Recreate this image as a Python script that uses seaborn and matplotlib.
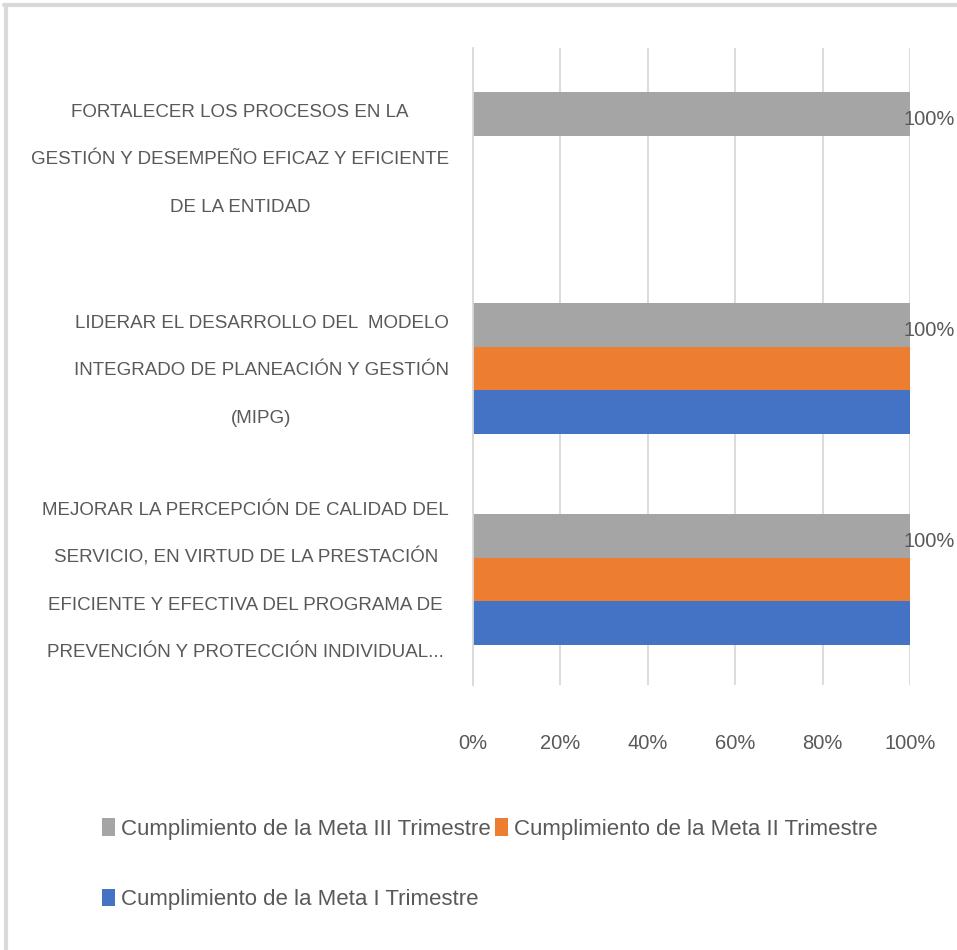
import numpy as np
import pandas as pd
import matplotlib
matplotlib.use("Agg")
import matplotlib.pyplot as plt
from matplotlib.lines import Line2D
from matplotlib.ticker import FuncFormatter
from matplotlib.font_manager import FontProperties
from matplotlib.transforms import ScaledTranslation
import seaborn as sns

# datos
objetivos = [
    "FORTALECER LOS PROCESOS EN LA\nGESTIÓN Y DESEMPEÑO EFICAZ Y EFICIENTE\nDE LA ENTIDAD",
    "LIDERAR EL DESARROLLO DEL  MODELO\nINTEGRADO DE PLANEACIÓN Y GESTIÓN\n(MIPG)",
    "MEJORAR LA PERCEPCIÓN DE CALIDAD DEL\nSERVICIO, EN VIRTUD DE LA PRESTACIÓN\nEFICIENTE Y EFECTIVA DEL PROGRAMA DE\nPREVENCIÓN Y PROTECCIÓN INDIVIDUAL...",
]
series = [
    "Cumplimiento de la Meta III Trimestre",
    "Cumplimiento de la Meta II Trimestre",
    "Cumplimiento de la Meta I Trimestre",
]
meta_iii = [1.0, 1.0, 1.0]
meta_ii = [np.nan, 1.0, 1.0]
meta_i = [np.nan, 1.0, 1.0]
colores = ["#A5A5A5", "#ED7D31", "#4472C4"]

TXT = "#595959"
DPI = 100

sns.set_style("white")
plt.rcParams["font.family"] = ["Liberation Sans", "DejaVu Sans"]

df = pd.DataFrame({
    "objetivo": objetivos * 3,
    "serie": [series[0]] * 3 + [series[1]] * 3 + [series[2]] * 3,
    "valor": meta_iii + meta_ii + meta_i,
})

fig = plt.figure(figsize=(9.57, 9.5), dpi=DPI)
ax = fig.add_axes([0.4943, 0.2789, 0.4566, 0.6706])

sns.barplot(data=df, x="valor", y="objetivo", hue="serie", order=objetivos,
            hue_order=series, palette=colores, width=0.62, saturation=1,
            linewidth=0, ax=ax, legend=True)

ax.set_xlim(0, 1)
ax.set_ylim(2.5, -0.52)
ax.set_xticks(np.arange(0, 1.01, 0.2))
ax.xaxis.set_major_formatter(FuncFormatter(lambda v, p: f"{v:.0%}"))
ax.grid(axis="x", color="#D9D9D9", linewidth=1.3)
ax.set_axisbelow(True)
for s in ["top", "right", "bottom"]:
    ax.spines[s].set_visible(False)
ax.spines["left"].set_color("#D9D9D9")
ax.spines["left"].set_linewidth(1.3)
ax.set_xlabel("")
ax.set_ylabel("")
ax.tick_params(axis="x", length=0, pad=35, labelsize=14.5, labelcolor=TXT)
ax.tick_params(axis="y", length=0, labelleft=False)

# etiquetas de categoría: líneas centradas, bloque alineado a la derecha,
# con interlineado uniforme (como en el original)
fp = FontProperties(family=["Liberation Sans", "DejaVu Sans"], size=13.5)
renderer = fig.canvas.get_renderer()
borde_der = -24      # px desde el eje
paso = 47.5          # px entre líneas
base = 6.5           # px de centro a línea base
for i, etiqueta in enumerate(objetivos):
    lineas = etiqueta.split("\n")
    ancho = max(renderer.get_text_width_height_descent(ln, fp, ismath=False)[0]
                for ln in lineas)
    cx = borde_der - ancho / 2
    n = len(lineas)
    for j, ln in enumerate(lineas):
        dy = -((j - (n - 1) / 2) * paso + base)
        tr = ax.get_yaxis_transform() + ScaledTranslation(cx / DPI, dy / DPI,
                                                          fig.dpi_scale_trans)
        ax.text(0, i, ln, transform=tr, ha="center", va="baseline",
                fontproperties=fp, color=TXT, clip_on=False)

# etiquetas de 100% sólo en la serie III
etq = ax.bar_label(ax.containers[0], labels=["100%"] * len(ax.containers[0]),
                   padding=-5, fontsize=14.5, color=TXT, clip_on=False)
for t in etq:
    t.xyann = (t.xyann[0], -4)

# leyenda en dos filas (orden columna por columna)
h, l = ax.get_legend_handles_labels()
ax.get_legend().remove()
orden = [0, 2, 1]
fig.legend([h[i] for i in orden], [l[i] for i in orden], ncol=2,
           loc="upper left", bbox_to_anchor=(0.097, 0.148), frameon=False,
           fontsize=16, labelcolor=TXT, handlelength=0.6, handleheight=0.85,
           handletextpad=0.25, columnspacing=0.2, labelspacing=2.2,
           borderaxespad=0)

# borde del área del gráfico
fig.add_artist(Line2D([0.004, 1.0], [0.995, 0.995], color="#D9D9D9", lw=3))
fig.add_artist(Line2D([0.006, 0.006], [0.0, 0.995], color="#D9D9D9", lw=3))

fig.savefig("out.png", dpi=DPI, facecolor="white")
